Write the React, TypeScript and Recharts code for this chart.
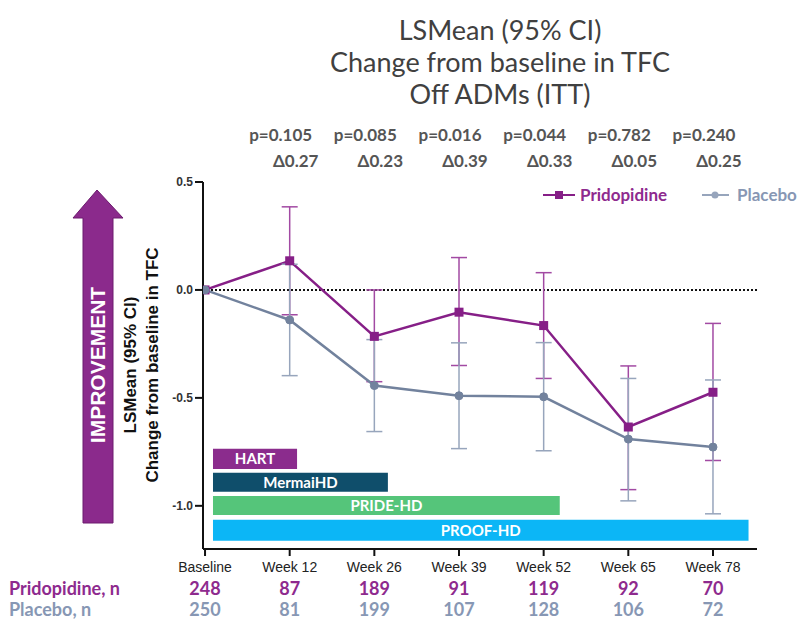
import React from "react";
import {
  LineChart, Line, XAxis, YAxis, ErrorBar, ReferenceLine, ReferenceArea,
} from "recharts";

// visits along the x axis (index positions)
const weekLabels = ["Baseline", "Week 12", "Week 26", "Week 39", "Week 52", "Week 65", "Week 78"];

// LSMean change from baseline and 95% CI bounds
const pridoMean = [0, 0.135, -0.215, -0.103, -0.165, -0.635, -0.474];
const pridoLow = [0, -0.115, -0.425, -0.35, -0.41, -0.925, -0.79];
const pridoHigh = [0, 0.385, 0.0, 0.15, 0.08, -0.352, -0.155];

const placeboMean = [0, -0.139, -0.443, -0.49, -0.495, -0.691, -0.728];
const placeboLow = [0, -0.397, -0.656, -0.735, -0.745, -0.977, -1.037];
const placeboHigh = [0, 0.119, -0.23, -0.245, -0.244, -0.41, -0.417];

// stats per post-baseline visit
const pValues = ["p=0.105", "p=0.085", "p=0.016", "p=0.044", "p=0.782", "p=0.240"];
const deltas = ["Δ0.27", "Δ0.23", "Δ0.39", "Δ0.33", "Δ0.05", "Δ0.25"];

// number of patients per visit
const pridoN = [248, 87, 189, 91, 119, 92, 70];
const placeboN = [250, 81, 199, 107, 128, 106, 72];

// studies and how far (in visits) each one runs
const studyNames = ["HART", "MermaiHD", "PRIDE-HD", "PROOF-HD"];
const studyEnds = [1.087, 2.16, 4.19, 6.42];

const PURPLE = "#861f87";
const PURPLE_ERR = "#a24aa3";
const PURPLE_TEXT = "#8e2a8e";
const GREY = "#72829d";
const GREY_ERR = "#97a5bc";
const GREY_TEXT = "#8797b4";
const STUDY_COLORS = ["#8b2c8d", "#0f4e6b", "#55c57a", "#0cb6f6"];
const STUDY_BANDS: [number, number][] = [
  [-0.736, -0.829], [-0.847, -0.935], [-0.954, -1.042], [-1.065, -1.162],
];

const X_DOMAIN: [number, number] = [-0.024, 6.52];

const chartData = weekLabels.map((label, i) => ({
  x: i,
  label,
  prido: pridoMean[i],
  pridoErr: i === 0 ? null : [pridoMean[i] - pridoLow[i], pridoHigh[i] - pridoMean[i]],
  placebo: placeboMean[i],
  placeboErr: i === 0 ? null : [placeboMean[i] - placeboLow[i], placeboHigh[i] - placeboMean[i]],
}));

const SquareDot = (props: any) => {
  const { cx, cy } = props;
  if (cx == null || cy == null) return null;
  return <rect x={cx - 4.5} y={cy - 4.5} width={9} height={9} fill={PURPLE} />;
};

const TopTick = (props: any) => {
  const { x, y, payload } = props;
  const i = Math.round(payload.value) - 1;
  if (i < 0 || i >= pValues.length) return null;
  return (
    <g fontFamily="Lato, sans-serif" fontWeight={700} fontSize={17} fill="#555">
      <text x={x - 9} y={y - 41} textAnchor="middle">{pValues[i]}</text>
      <text x={x + 6} y={y - 15} textAnchor="middle">{deltas[i]}</text>
    </g>
  );
};

const BottomTick = (props: any) => {
  const { x, y, payload } = props;
  const i = Math.round(payload.value);
  return (
    <g textAnchor="middle">
      <text x={x} y={y + 14} fontSize={14} fill="#222"
        fontFamily="'Liberation Sans Narrow', 'Liberation Sans', sans-serif">
        {weekLabels[i]}
      </text>
      <text x={x} y={y + 37} fontSize={18} fontWeight={700} fill={PURPLE_TEXT} fontFamily="Lato, sans-serif">
        {pridoN[i]}
      </text>
      <text x={x} y={y + 58} fontSize={18} fontWeight={700} fill={GREY_TEXT} fontFamily="Lato, sans-serif">
        {placeboN[i]}
      </text>
    </g>
  );
};

export default function App() {
  return (
    <div style={{ position: "absolute", left: 0, top: 0, width: 806, height: 620, background: "#fff", overflow: "hidden" }}>
      <div style={{
        position: "absolute", left: 300, top: 14, width: 400, textAlign: "center",
        fontFamily: "Lato, sans-serif", fontSize: 27, lineHeight: "32px", color: "#404040",
      }}>
        <div>LSMean (95% CI)</div>
        <div>Change from baseline in TFC</div>
        <div>Off ADMs (ITT)</div>
      </div>

      <LineChart width={806} height={620} data={chartData}
        margin={{ top: 122, right: 49, bottom: 0, left: 143 }}>
        <XAxis xAxisId="t" orientation="top" type="number" dataKey="x" domain={X_DOMAIN}
          ticks={[1, 2, 3, 4, 5, 6]} interval={0} allowDataOverflow height={60}
          axisLine={false} tickLine={false} tickSize={0} tickMargin={0}
          tick={(p: any) => <TopTick {...p} />} />
        <XAxis xAxisId="b" type="number" dataKey="x" domain={X_DOMAIN}
          ticks={[0, 1, 2, 3, 4, 5, 6]} interval={0} allowDataOverflow height={71}
          axisLine={{ stroke: "#111", strokeWidth: 2 }}
          tickLine={{ stroke: "#111", strokeWidth: 2 }} tickSize={7}
          tick={(p: any) => <BottomTick {...p} />} />
        <YAxis type="number" domain={[-1.2, 0.5]} ticks={[0.5, 0, -0.5, -1]} allowDataOverflow
          tickFormatter={(v: number) => v.toFixed(1)} width={60}
          axisLine={{ stroke: "#111", strokeWidth: 2 }}
          tickLine={{ stroke: "#111", strokeWidth: 2 }} tickSize={8}
          tick={{ fill: "#333", fontSize: 12, fontWeight: 700, fontFamily: "'Liberation Sans', sans-serif" }} />

        <ReferenceLine xAxisId="b" y={0} stroke="#111" strokeWidth={2} strokeDasharray="2 2" />

        {studyNames.map((name, i) => (
          <ReferenceArea key={name} xAxisId="b" x1={0.094} x2={studyEnds[i]}
            y1={STUDY_BANDS[i][0]} y2={STUDY_BANDS[i][1]}
            fill={STUDY_COLORS[i]} fillOpacity={1} stroke="none"
            label={{ value: name, position: "center", fill: "#fff", fontSize: 15, fontWeight: 700, fontFamily: "Lato, sans-serif" }} />
        ))}

        <Line xAxisId="b" dataKey="prido" stroke={PURPLE} strokeWidth={2.5}
          dot={(p: any) => <SquareDot key={`s${p.index}`} {...p} />} isAnimationActive={false}>
          <ErrorBar dataKey="pridoErr" width={8} stroke={PURPLE_ERR} strokeWidth={1.5} direction="y" />
        </Line>
        <Line xAxisId="b" dataKey="placebo" stroke={GREY} strokeWidth={2.5}
          dot={{ r: 4, fill: GREY, stroke: GREY, strokeWidth: 1 }} isAnimationActive={false}>
          <ErrorBar dataKey="placeboErr" width={8} stroke={GREY_ERR} strokeWidth={1.5} direction="y" />
        </Line>
      </LineChart>

      <svg width={806} height={620} style={{ position: "absolute", left: 0, top: 0, pointerEvents: "none" }}>
        {/* improvement arrow */}
        <path d="M97 190 L123 218 L113 218 L113 523 L83 523 L83 218 L73 218 Z"
          fill="#8b2a8c" stroke="#6d1b6e" strokeWidth={1} />
        <text x={97} y={365} transform="rotate(-90 97 365)" textAnchor="middle" dominantBaseline="central"
          fill="#fff" fontSize={21} fontWeight={700} fontFamily="'Liberation Sans', sans-serif">IMPROVEMENT</text>

        {/* y axis title */}
        <g fontFamily="'Liberation Sans', sans-serif" fontWeight={700} fontSize={17} fill="#111" textAnchor="middle">
          <text x={130} y={365} transform="rotate(-90 130 365)" dominantBaseline="central">LSMean (95% CI)</text>
          <text x={152} y={365} transform="rotate(-90 152 365)" dominantBaseline="central">Change from baseline in TFC</text>
        </g>

        {/* legend */}
        <g fontFamily="Lato, sans-serif" fontWeight={700} fontSize={17}>
          <line x1={543} y1={195} x2={575} y2={195} stroke={PURPLE} strokeWidth={2} />
          <rect x={555} y={191} width={8} height={8} fill={PURPLE} />
          <text x={580} y={201} fill={PURPLE_TEXT}>Pridopidine</text>
          <line x1={702} y1={195} x2={729} y2={195} stroke={GREY_ERR} strokeWidth={2} />
          <circle cx={715} cy={195} r={3.5} fill={GREY_ERR} />
          <text x={737} y={201} fill={GREY_TEXT}>Placebo</text>
        </g>

        {/* n table row labels */}
        <g fontFamily="Lato, sans-serif" fontWeight={700} fontSize={18}>
          <text x={9} y={595} fill={PURPLE_TEXT}>Pridopidine, n</text>
          <text x={9} y={616} fill={GREY_TEXT}>Placebo, n</text>
        </g>
      </svg>
    </div>
  );
}
